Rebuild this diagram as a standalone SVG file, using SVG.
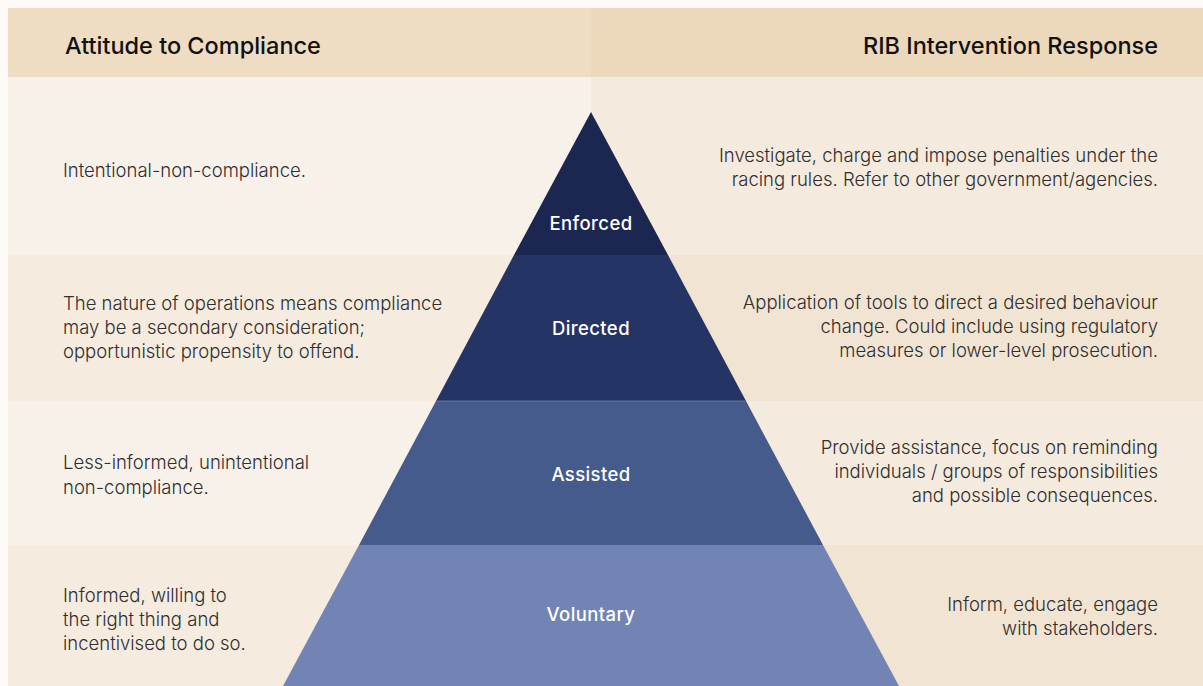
<svg xmlns="http://www.w3.org/2000/svg" width="1203" height="686" viewBox="0 0 1203 686">
  <style>
    .hdr { font-family: Inter, "Liberation Sans", sans-serif; font-size: 23.5px; font-weight: 500; fill: #111111; }
    .body { font-family: Inter, "Liberation Sans", sans-serif; font-size: 18.5px; font-weight: 300; fill: #2f2f2f; }
    .right { text-anchor: end; }
    .lvl { font-family: Inter, "Liberation Sans", sans-serif; font-size: 18.5px; font-weight: 500; fill: #ffffff; text-anchor: middle; letter-spacing: 0.4px; }
  </style>

  <!-- page -->
  <rect x="0" y="0" width="1203" height="686" fill="#fefaf8"/>

  <!-- header band -->
  <rect x="8" y="8" width="583" height="69" fill="#eeddc3"/>
  <rect x="591" y="8" width="612" height="69" fill="#ecd9bc"/>

  <!-- row bands -->
  <rect x="8" y="77" width="583" height="178" fill="#f8f1ea"/>
  <rect x="591" y="77" width="612" height="178" fill="#f5eade"/>
  <rect x="8" y="255" width="583" height="146" fill="#f5ebdf"/>
  <rect x="591" y="255" width="612" height="146" fill="#f2e4d3"/>
  <rect x="8" y="401" width="583" height="144" fill="#f8f1ea"/>
  <rect x="591" y="401" width="612" height="144" fill="#f5eade"/>
  <rect x="8" y="545" width="583" height="141" fill="#f5ebdf"/>
  <rect x="591" y="545" width="612" height="141" fill="#f2e4d3"/>

  <!-- pyramid levels -->
  <g id="enforced">
    <polygon points="591,112 668,255 514,255" fill="#1b2750"/>
    <text class="lvl" x="591" y="230">Enforced</text>
  </g>
  <g id="directed">
    <polygon points="514,255 668,255 746,401 436,401" fill="#243464"/>
    <text class="lvl" x="591" y="335">Directed</text>
  </g>
  <g id="assisted">
    <polygon points="436,401 746,401 823,545 359,545" fill="#445b8c"/>
    <line x1="437" y1="401" x2="745" y2="401" stroke="#6677a0" stroke-width="1"/>
    <text class="lvl" x="591" y="481">Assisted</text>
  </g>
  <g id="voluntary">
    <polygon points="359,545 823,545 899,686 283,686" fill="#7184b3"/>
    <text class="lvl" x="591" y="621">Voluntary</text>
  </g>

  <!-- column headings -->
  <g id="heading-attitude">
    <text class="hdr" x="65" y="54">Attitude to Compliance</text>
  </g>
  <g id="heading-response">
    <text class="hdr right" x="1158" y="54">RIB Intervention Response</text>
  </g>

  <!-- attitude descriptions -->
  <g id="attitude-enforced">
    <text class="body" x="63" y="177">Intentional-non-compliance.</text>
  </g>
  <g id="attitude-directed">
    <text class="body" x="63" y="310">The nature of operations means compliance</text>
    <text class="body" x="63" y="334">may be a secondary consideration;</text>
    <text class="body" x="63" y="358">opportunistic propensity to offend.</text>
  </g>
  <g id="attitude-assisted">
    <text class="body" x="63" y="469">Less-informed, unintentional</text>
    <text class="body" x="63" y="494">non-compliance.</text>
  </g>
  <g id="attitude-voluntary">
    <text class="body" x="63" y="602">Informed, willing to</text>
    <text class="body" x="63" y="626">the right thing and</text>
    <text class="body" x="63" y="650">incentivised to do so.</text>
  </g>

  <!-- intervention responses -->
  <g id="response-enforced">
    <text class="body right" x="1158" y="162">Investigate, charge and impose penalties under the</text>
    <text class="body right" x="1158" y="186">racing rules. Refer to other government/agencies.</text>
  </g>
  <g id="response-directed">
    <text class="body right" x="1158" y="309">Application of tools to direct a desired behaviour</text>
    <text class="body right" x="1158" y="333">change. Could include using regulatory</text>
    <text class="body right" x="1158" y="357">measures or lower-level prosecution.</text>
  </g>
  <g id="response-assisted">
    <text class="body right" x="1158" y="454">Provide assistance, focus on reminding</text>
    <text class="body right" x="1158" y="478">individuals / groups of responsibilities</text>
    <text class="body right" x="1158" y="502">and possible consequences.</text>
  </g>
  <g id="response-voluntary">
    <text class="body right" x="1158" y="611">Inform, educate, engage</text>
    <text class="body right" x="1158" y="635">with stakeholders.</text>
  </g>
</svg>
